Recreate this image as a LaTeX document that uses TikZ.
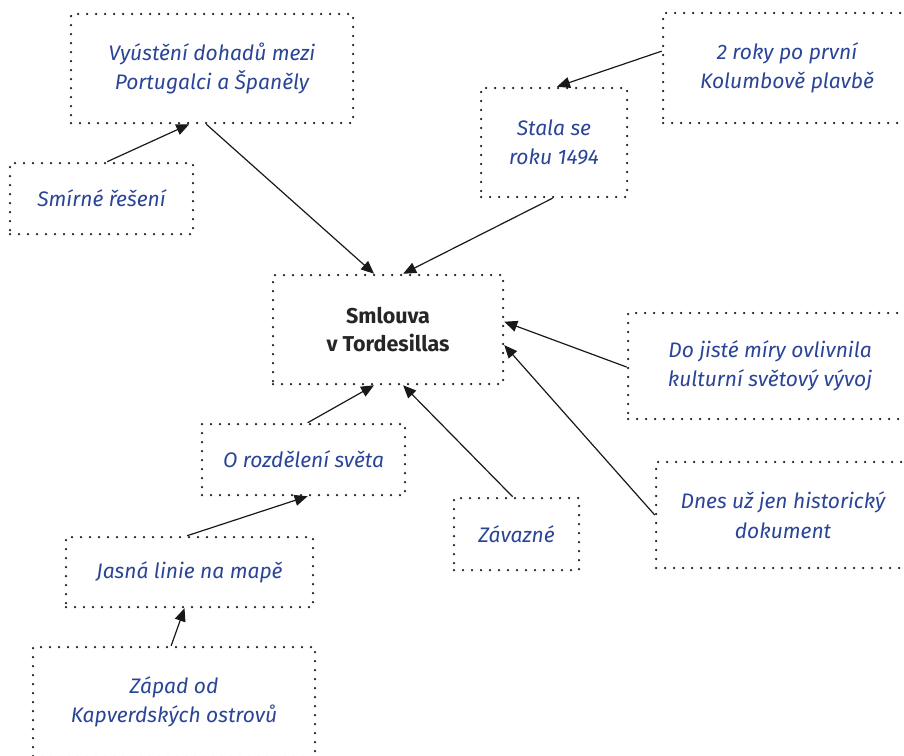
\documentclass[tikz,border=0pt]{standalone}
\usepackage{fontspec}
\setmainfont{Fira Sans}
\usetikzlibrary{calc,arrows.meta}
\definecolor{txtblue}{RGB}{42,68,150}
\tikzset{
  dotbox/.style={draw=black!90, line width=2.5pt, line cap=round,
    dash pattern=on 0pt off 9pt, inner sep=0pt, align=center,
    text=txtblue, font=\itshape\fontsize{21}{29.5}\selectfont},
  mainbox/.style={dotbox, text=black!85, font=\bfseries\fontsize{21.5}{28}\selectfont},
  link/.style={line width=1.2pt, black!90, -{Triangle[length=13pt,width=11pt]}}
}
\begin{document}
\begin{tikzpicture}[x=1pt,y=-1pt]
\useasboundingbox (0,0) rectangle (904,755);
% concept boxes
\node[mainbox, minimum width=230pt, minimum height=109pt] (E) at (388,329.5) {Smlouva\\v Tordesillas};
\node[dotbox, minimum width=282pt, minimum height=109pt] (A) at (212,68.5) {Vyústění dohadů mezi\\Portugalci a Španěly};
\node[dotbox, minimum width=183pt, minimum height=71pt] (B) at (101.5,198.5) {Smírné řešení};
\node[dotbox, minimum width=146pt, minimum height=109pt] (C) at (554,142.5) {Stala se\\roku 1494};
\node[dotbox, minimum width=248pt, minimum height=110pt] (D) at (787,68) {2 roky po první\\Kolumbově plavbě};
\node[dotbox, minimum width=284pt, minimum height=106pt] (F) at (770,366) {Do jisté míry ovlivnila\\kulturní světový vývoj};
\node[dotbox, minimum width=203pt, minimum height=71pt] (G) at (303.5,459.5) {O rozdělení světa};
\node[dotbox, minimum width=125pt, minimum height=72pt] (H) at (516.5,534) {Závazné};
\node[dotbox, minimum width=254pt, minimum height=106pt] (I) at (783,515) {Dnes už jen historický\\dokument};
\node[dotbox, minimum width=247pt, minimum height=70pt] (J) at (189.5,572) {Jasná linie na mapě};
\node[dotbox, minimum width=282pt, minimum height=110pt] (K) at (174,702) {Západ od\\Kapverdských ostrovů};
% connectors
\draw[link] ($(B.north west)!0.53!(B.north east)$) -- ($(A.south west)!0.42!(A.south east)$);
\draw[link] ($(A.south west)!0.48!(A.south east)$) -- ($(E.north west)!0.44!(E.north east)$);
\draw[link] ($(C.south west)!0.49!(C.south east)$) -- ($(E.north west)!0.565!(E.north east)$);
\draw[link] ($(D.north west)!0.35!(D.south west)$) -- ($(C.north west)!0.52!(C.north east)$);
\draw[link] ($(F.north west)!0.51!(F.south west)$) -- ($(E.north east)!0.43!(E.south east)$);
\draw[link] ($(I.north west)!0.5!(I.south west)$) -- ($(E.north east)!0.64!(E.south east)$);
\draw[link] ($(H.north west)!0.47!(H.north east)$) -- ($(E.south west)!0.565!(E.south east)$);
\draw[link] ($(G.north west)!0.52!(G.north east)$) -- ($(E.south west)!0.44!(E.south east)$);
\draw[link] ($(J.north west)!0.49!(J.north east)$) -- ($(G.south west)!0.52!(G.south east)$);
\draw[link] ($(K.north west)!0.49!(K.north east)$) -- ($(J.south west)!0.48!(J.south east)$);
\end{tikzpicture}
\end{document}
